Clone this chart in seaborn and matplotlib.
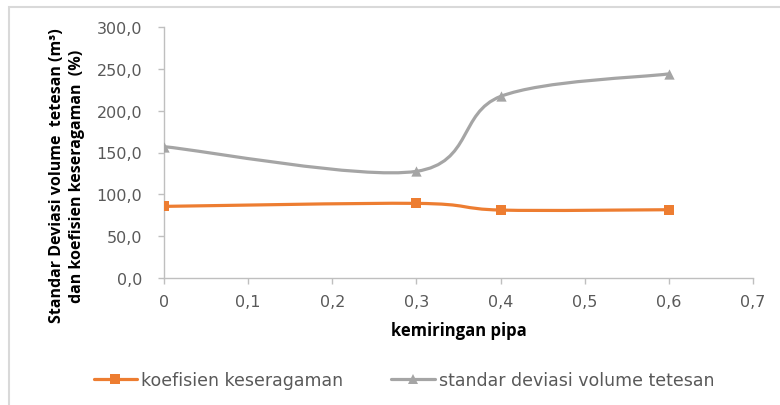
import numpy as np
import pandas as pd
import matplotlib
matplotlib.use("Agg")
import matplotlib.pyplot as plt
import seaborn as sns
from matplotlib.path import Path
from matplotlib.patches import PathPatch, Rectangle
from matplotlib.lines import Line2D
from matplotlib.ticker import FuncFormatter

# ---- data ----
kemiringan = [0.0, 0.3, 0.4, 0.6]
koefisien = [85.6, 89.2, 81.2, 81.6]
standar_dev = [157.0, 127.5, 217.0, 244.0]
series_names = ["koefisien keseragaman", "standar deviasi volume tetesan"]
x_ticks = [0, 0.1, 0.2, 0.3, 0.4, 0.5, 0.6, 0.7]
y_ticks = [0, 50, 100, 150, 200, 250, 300]

colors = {series_names[0]: "#ED7D31", series_names[1]: "#A5A5A5"}
markers = {series_names[0]: "s", series_names[1]: "^"}
sizes = {series_names[0]: 42, series_names[1]: 55}

df = pd.DataFrame({
    "x": kemiringan * 2,
    "y": koefisien + standar_dev,
    "series": [series_names[0]] * len(kemiringan) + [series_names[1]] * len(kemiringan),
})

sns.set_theme(style="white")
plt.rcParams["font.family"] = ["DejaVu Sans"]

fig = plt.figure(figsize=(7.8, 4.06), dpi=100)
ax = fig.add_axes([164 / 780, 1 - 279 / 406, (753 - 164) / 780, (279 - 28) / 406])

# smooth (Excel-like) curves through the data points
def smooth_path(xs, ys):
    P = np.column_stack([xs, ys]).astype(float)
    n = len(P)
    verts = [P[0]]
    codes = [Path.MOVETO]
    for i in range(n - 1):
        p0 = P[max(i - 1, 0)]
        p1 = P[i]
        p2 = P[i + 1]
        p3 = P[min(i + 2, n - 1)]
        c1 = p1 + (p2 - p0) / 6.0
        c2 = p2 - (p3 - p1) / 6.0
        verts += [c1, c2, p2]
        codes += [Path.CURVE4] * 3
    return Path(verts, codes)

for name in series_names:
    sub = df[df["series"] == name]
    patch = PathPatch(smooth_path(sub["x"].values, sub["y"].values),
                      facecolor="none", edgecolor=colors[name], lw=2.3,
                      capstyle="round", joinstyle="round", zorder=2)
    ax.add_patch(patch)

for name in series_names:
    sub = df[df["series"] == name]
    sns.scatterplot(data=sub, x="x", y="y", color=colors[name],
                    marker=markers[name], s=sizes[name], linewidth=0,
                    legend=False, ax=ax, zorder=3)

ax.set_xlim(0, 0.7)
ax.set_ylim(0, 300)
ax.set_xticks(x_ticks)
ax.set_yticks(y_ticks)

def fmt_x(v, pos):
    if abs(v) < 1e-9:
        return "0"
    return f"{v:.1f}".replace(".", ",")

def fmt_y(v, pos):
    return f"{v:.1f}".replace(".", ",")

ax.xaxis.set_major_formatter(FuncFormatter(fmt_x))
ax.yaxis.set_major_formatter(FuncFormatter(fmt_y))

for s in ["top", "right"]:
    ax.spines[s].set_visible(False)
for s in ["left", "bottom"]:
    ax.spines[s].set_color("#BFBFBF")
    ax.spines[s].set_linewidth(1.0)

ax.tick_params(axis="both", which="major", direction="out", length=4.5,
               width=1, color="#BFBFBF", labelsize=11.5, labelcolor="#595959",
               bottom=True, left=True)
ax.tick_params(axis="x", pad=7)
ax.tick_params(axis="y", pad=11)
ax.grid(False)

ax.set_xlabel("kemiringan pipa", fontsize=12, fontweight="bold", color="#000000",
              family=["Open Sans", "DejaVu Sans"])
ax.xaxis.set_label_coords(0.5, -(331 - 279) / 251, transform=ax.transAxes)
ax.xaxis.label.set_va("center")

ax.set_ylabel("Standar Deviasi volume  tetesan (m³)\ndan koefisien keseragaman  (%)",
              fontsize=11.5, fontweight="bold", color="#000000",
              family=["Open Sans", "DejaVu Sans"], linespacing=1.3)
ax.yaxis.set_label_coords((85 - 164) / 589, 0.41)

handles = [Line2D([0], [0], color=colors[n], lw=2.3, marker=markers[n],
                  markersize=7, markeredgewidth=0) for n in series_names]
fig.legend(handles, series_names, loc="center left",
           bbox_to_anchor=((93 - 15) / 780, 1 - 381 / 406), ncol=2, frameon=False,
           prop={"family": "DejaVu Sans", "size": 12.5},
           handlelength=2.5, handletextpad=0.25, columnspacing=2.75,
           labelcolor="#595959")

fig.patches.append(Rectangle((9 / 780, -0.05), 1.2, 1 - 8 / 406 + 0.05,
                             transform=fig.transFigure, fill=False,
                             edgecolor="#D9D9D9", lw=1.5, zorder=0))

fig.savefig("out.png", dpi=100)
